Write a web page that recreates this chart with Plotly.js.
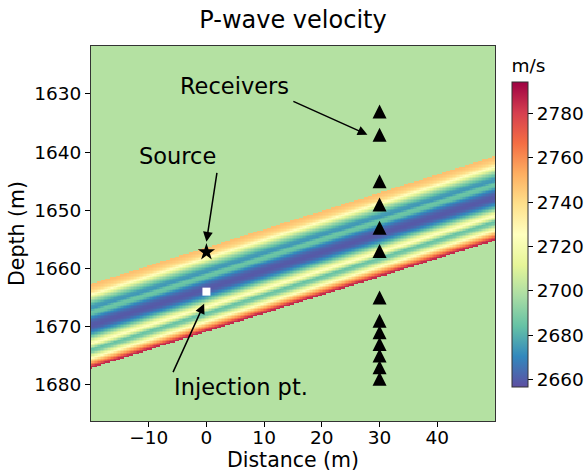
<!DOCTYPE html>
<html>
<head>
<meta charset="utf-8">
<script src="https://cdn.plot.ly/plotly-3.0.1.min.js"></script>
<style>html,body{margin:0;padding:0;background:#fff;}#chart{width:587px;height:473px;}</style>
</head>
<body>
<div id="chart"></div>
<script>
// ---- data ----
// model grid (m)
const gridX = [-20, 50];          // distance extent
const gridY = [1621.75, 1686.25]; // depth extent
const cellSize = 0.25;
const backgroundVelocity = 2700;  // m/s outside the dipping layer

// dipping layer geometry
const layerTopAtZero = 1656.4;   // depth of layer top at distance 0
const layerDip = -0.314;         // depth change per metre of distance
const layerThickness = 14.5;     // vertical thickness (m)

// velocity profile across the layer, top -> bottom, one value per 0.5 m
const profileStep = 0.5;
const profileVelocity = [2748, 2745, 2740, 2728, 2712, 2697, 2686, 2676, 2674, 2686,
                         2684, 2672, 2664, 2660, 2659, 2662, 2670, 2680, 2695, 2712,
                         2726, 2705, 2684, 2690, 2708, 2725, 2745, 2762, 2785];

// acquisition geometry
const sourceX = [0];       const sourceDepth = [1657.2];
const injectionX = [0];    const injectionDepth = [1664];
const receiverX = [30,30,30,30,30,30,30,30,30,30,30,30,30];
const receiverDepth = [1633,1637,1645,1649,1653,1657,1665,1669,1671,1673,1675,1677,1679];

// labels
const colorTicks = [2660, 2680, 2700, 2720, 2740, 2760, 2780];
const xTicks = [-10, 0, 10, 20, 30, 40];
const yTicks = [1630, 1640, 1650, 1660, 1670, 1680];

// ---- build the velocity field ----
function profileAt(d) {
  const t = d / profileStep - 0.5;
  const n = profileVelocity.length;
  if (t <= 0) return profileVelocity[0];
  if (t >= n - 1) return profileVelocity[n - 1];
  const k = Math.floor(t), f = t - k;
  return profileVelocity[k] * (1 - f) + profileVelocity[k + 1] * f;
}
const nx = Math.round((gridX[1] - gridX[0]) / cellSize);
const ny = Math.round((gridY[1] - gridY[0]) / cellSize);
const xs = [], ys = [], z = [];
for (let i = 0; i < nx; i++) xs.push(gridX[0] + cellSize / 2 + i * cellSize);
for (let j = 0; j < ny; j++) ys.push(gridY[0] + cellSize / 2 + j * cellSize);
for (let j = 0; j < ny; j++) {
  const row = [];
  for (let i = 0; i < nx; i++) {
    const d = ys[j] - (layerTopAtZero + layerDip * xs[i]);
    row.push(d >= 0 && d < layerThickness ? profileAt(d) : backgroundVelocity);
  }
  z.push(row);
}

const spectralR = [[0,'#5e4fa2'],[0.1,'#3288bd'],[0.2,'#66c2a5'],[0.3,'#abdda4'],[0.4,'#e6f598'],
  [0.5,'#ffffbf'],[0.6,'#fee08b'],[0.7,'#fdae61'],[0.8,'#f46d43'],[0.9,'#d53e4f'],[1,'#9e0142']];

const FONT = 'DejaVu Sans, sans-serif';

const traces = [
  {
    type: 'heatmap', x: xs, y: ys, z: z, zsmooth: false,
    colorscale: spectralR, zmin: 2656.7, zmax: 2794.3, hoverinfo: 'skip',
    colorbar: {
      x: 1.042, xanchor: 'left', xpad: 0, y: 0.0915, yanchor: 'bottom', ypad: 0,
      thickness: 16, len: 331, lenmode: 'pixels',
      tickvals: colorTicks, ticks: 'outside', ticklen: 5, tickcolor: '#000',
      tickfont: {family: FONT, size: 18.5, color: '#000'},
      outlinewidth: 1, outlinecolor: '#333',
      title: {text: 'm/s', side: 'top', font: {family: FONT, size: 18.5, color: '#000'}}
    }
  },
  {
    type: 'scatter', mode: 'markers', x: sourceX, y: sourceDepth,
    marker: {symbol: 'star', size: 13, color: '#000'}, hoverinfo: 'skip'
  },
  {
    type: 'scatter', mode: 'markers', x: injectionX, y: injectionDepth,
    marker: {symbol: 'square', size: 8, color: '#fff', line: {width: 0}}, hoverinfo: 'skip'
  },
  {
    type: 'scatter', mode: 'markers', x: receiverX, y: receiverDepth,
    marker: {symbol: 'arrow-down', angle: 180, standoff: 7, size: 14, color: '#000', line: {width: 0}},
    hoverinfo: 'skip'
  }
];

const annFont = {family: FONT, size: 22.5, color: '#000'};
const arrowBase = {text: '', showarrow: true, xref: 'x', yref: 'y', axref: 'x', ayref: 'y',
  arrowhead: 2, arrowsize: 1.3, arrowwidth: 1.5, arrowcolor: '#000', standoff: 0, startstandoff: 0};

const layout = {
  width: 587, height: 473,
  margin: {l: 91, r: 92, t: 46, b: 52, pad: 0, autoexpand: false},
  paper_bgcolor: '#fff', plot_bgcolor: '#fff',
  showlegend: false,
  title: {text: 'P-wave velocity', font: {family: FONT, size: 24, color: '#000'},
          x: 0.5, xref: 'paper', xanchor: 'center', y: 1 - 20 / 473, yref: 'container', yanchor: 'middle'},
  xaxis: {
    range: gridX, tickvals: xTicks, ticktext: xTicks.map(v => v < 0 ? '\u2212' + Math.abs(v) : String(v)),
    ticks: 'outside', ticklen: 5, tickcolor: '#000', ticklabelstandoff: -5, zeroline: false, showgrid: false,
    showline: true, mirror: true, linecolor: '#333', linewidth: 1,
    tickfont: {family: FONT, size: 18.5, color: '#000'},
    title: {text: 'Distance (m)', font: {family: FONT, size: 20.5, color: '#000'}, standoff: 2},
    automargin: false
  },
  yaxis: {
    range: [gridY[1], gridY[0]], tickvals: yTicks,
    ticks: 'outside', ticklen: 5, tickcolor: '#000', zeroline: false, showgrid: false,
    showline: true, mirror: true, linecolor: '#333', linewidth: 1,
    tickfont: {family: FONT, size: 18.5, color: '#000'},
    title: {text: 'Depth (m)', font: {family: FONT, size: 20.5, color: '#000'}, standoff: 4},
    automargin: false
  },
  annotations: [
    {text: 'Receivers', x: 4.8, y: 1628.7, xref: 'x', yref: 'y', showarrow: false, font: annFont},
    {text: 'Source', x: -5.0, y: 1640.7, xref: 'x', yref: 'y', showarrow: false, font: annFont},
    {text: 'Injection pt.', x: 6.0, y: 1680.4, xref: 'x', yref: 'y', showarrow: false, font: annFont},
    Object.assign({}, arrowBase, {x: 27.9, y: 1637.0, ax: 14.8, ay: 1631.15}),
    Object.assign({}, arrowBase, {x: 0.0, y: 1655.4, ax: 1.86, ay: 1643.3}),
    Object.assign({}, arrowBase, {x: -0.4, y: 1666.1, ax: -5.9, ay: 1678.1})
  ]
};

Plotly.newPlot('chart', traces, layout, {displayModeBar: false, staticPlot: true});
</script>
</body>
</html>
